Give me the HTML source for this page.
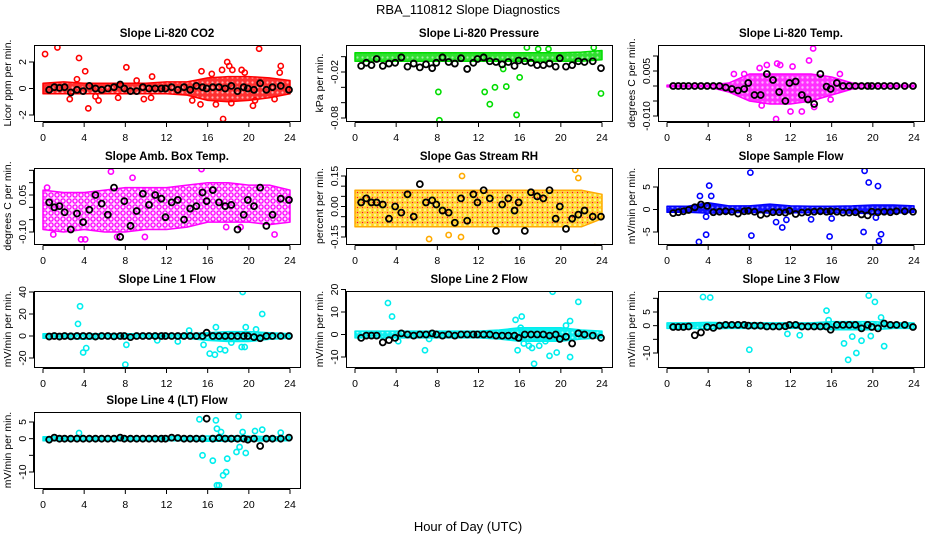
<!DOCTYPE html>
<html><head><meta charset="utf-8"><title>RBA_110812 Slope Diagnostics</title>
<style>
html,body{margin:0;padding:0;background:#fff;}
svg{display:block;font-family:"Liberation Sans",Arial,sans-serif;}
</style></head>
<body>
<svg id="chart" width="936" height="540" viewBox="0 0 936 540" xmlns="http://www.w3.org/2000/svg">
<defs>
<pattern id="pat-red" width="5" height="5" patternUnits="userSpaceOnUse"><rect width="5" height="5" fill="#ff3030"/><circle cx="2.5" cy="2.5" r="1.1" fill="#ffb0b0"/></pattern>
<pattern id="pat-green" width="5" height="5" patternUnits="userSpaceOnUse"><rect width="5" height="5" fill="#30e030"/><circle cx="2.5" cy="2.5" r="1.1" fill="#a0f0a0"/></pattern>
<pattern id="pat-magenta" width="5" height="5" patternUnits="userSpaceOnUse"><rect width="5" height="5" fill="#ff30ff"/><circle cx="2.5" cy="2.5" r="1.2" fill="#ffb0ff"/></pattern>
<pattern id="pat-magenta2" width="6" height="6" patternUnits="userSpaceOnUse"><rect width="6" height="6" fill="#ffe0ff"/><circle cx="3" cy="3" r="2.1" fill="none" stroke="#ff00ff" stroke-width="1.3"/></pattern>
<pattern id="pat-orange" width="5" height="5" patternUnits="userSpaceOnUse"><rect width="5" height="5" fill="#fff4a0"/><circle cx="2.5" cy="2.5" r="1.9" fill="none" stroke="#ffcc00" stroke-width="1"/><circle cx="2.5" cy="2.5" r="0.9" fill="#ff2000"/></pattern>
<pattern id="pat-blue" width="5" height="5" patternUnits="userSpaceOnUse"><rect width="5" height="5" fill="#1010ff"/><circle cx="2.5" cy="2.5" r="1" fill="#8080ff"/></pattern>
<pattern id="pat-cyan" width="5" height="5" patternUnits="userSpaceOnUse"><rect width="5" height="5" fill="#10f0f0"/><circle cx="2.5" cy="2.5" r="1" fill="#a0ffff"/></pattern>
</defs>
<text x="468" y="14" text-anchor="middle" font-size="13">RBA_110812  Slope Diagnostics</text>
<text x="468" y="531" text-anchor="middle" font-size="13">Hour of Day (UTC)</text>
<g id="panels"></g>
</svg>
<script>
// shared x positions (hour) of black summary points
const blackX = [0.6,1.1,1.6,2.1,2.7,3.3,3.9,4.5,5.1,5.7,6.3,6.9,7.5,7.9,8.5,9.1,9.7,10.3,10.9,11.5,11.9,12.5,13.1,13.7,14.3,14.9,15.5,15.9,16.5,17.1,17.7,18.3,18.9,19.5,19.9,20.5,21.1,21.7,22.3,23.1,23.9];
const bandHours = [0,2,4,6,8,10,12,14,16,18,20,22,24];
const xTicks = [0,4,8,12,16,20,24];

// Panel 1: CO2
const co2Hi = [0.4,0.5,0.4,0.4,0.4,0.4,0.5,0.5,0.8,0.9,0.9,0.8,0.6];
const co2Lo = [-0.4,-0.4,-0.4,-0.4,-0.4,-0.4,-0.4,-0.5,-0.9,-1.0,-0.9,-0.7,-0.4];
const co2OutX = [0.2,1.4,3.5,4.1,4.4,2.6,5.4,5.1,8.1,9.1,10.6,9.8,10.5,7.3,15.4,16.4,17.4,17.9,18.1,18.4,19.3,19.6,21.0,23.1,23.0,17.5,15.3,16.8,18.3,20.4,20.6,22.5,3.3,14.5];
const co2OutY = [2.6,3.1,2.3,1.3,-1.5,-0.8,-0.9,-0.6,1.6,0.6,0.9,-0.8,-0.7,-0.7,1.3,1.1,1.4,2.0,1.7,1.4,1.4,1.2,3.0,1.7,1.2,-2.3,-1.2,-1.2,-1.1,-1.3,-0.9,-0.8,0.7,-0.9];
const co2Black = [-0.1,0.1,0.05,0.1,-0.3,-0.1,-0.2,0.2,0,-0.1,0,0.1,0.3,0,-0.2,-0.2,0.1,0,0,0,0,0.1,-0.1,0.1,-0.1,0.2,0.1,0,0.1,0.1,0,0.2,-0.2,0.1,0,-0.1,0.4,-0.1,0.1,0.2,-0.1];
const co2Ticks = [-2,0,2];
const co2Labels = ["-2","0","2"];

// Panel 2: Pressure
const presHi = [0.005,0.005,0.005,0.005,0.005,0.005,0.005,0.005,0.005,0.005,0.005,0.006,0.008];
const presLo = [-0.006,-0.006,-0.006,-0.006,-0.006,-0.006,-0.006,-0.006,-0.006,-0.006,-0.006,-0.006,-0.004];
const presOutX = [8.1,8.2,12.6,13.1,13.6,14.7,15.7,16,23.9,16.7,17.8,18.8,23.2,14.4];
const presOutY = [-0.046,-0.083,-0.046,-0.062,-0.04,-0.039,-0.076,-0.027,-0.048,0.012,0.01,0.01,0.012,-0.016];
const presBlack = [-0.012,-0.008,-0.011,-0.003,-0.012,-0.009,-0.008,-0.001,-0.013,-0.009,-0.014,-0.01,-0.015,-0.008,-0.001,-0.007,-0.009,-0.002,-0.016,-0.008,-0.003,-0.001,-0.006,-0.007,-0.01,-0.007,-0.012,-0.005,-0.006,-0.008,-0.011,-0.011,-0.009,-0.013,-0.002,-0.013,-0.011,-0.006,-0.007,-0.006,-0.015];
const presTicks = [0,-0.02,-0.04,-0.06,-0.08];
const presLabels = ["","-0.02","","","-0.08"];

// Panel 3: Li-820 Temp
const tempHi = [0.0003,0.0003,0.0003,0.001,0.004,0.004,0.004,0.004,0.003,0.001,0.0003,0.0003,0.0003];
const tempLo = [-0.0003,-0.0003,-0.0003,-0.002,-0.005,-0.006,-0.006,-0.005,-0.003,-0.001,-0.0003,-0.0003,-0.0003];
const tempOutX = [14.2,13.8,10.7,9.7,9,11,12.2,10.6,9.2,13.1,14.3,12,15.9,16.8,7.5,6.5];
const tempOutY = [0.0125,0.0085,0.0075,0.007,0.006,0.007,0.0065,-0.011,-0.0065,-0.0085,-0.007,-0.0085,-0.0045,0.004,0.004,0.004];
const tempBlack = [0,0,0,0,0,0,0,0,0,-0.0005,-0.001,-0.0015,-0.001,0.001,-0.003,-0.003,0.004,0.002,-0.002,-0.005,0.001,0.0015,-0.003,-0.0045,-0.006,0.004,-0.0002,-0.001,0.001,0,0,0,0,0,0,0,0,0,0,0,0];
const tempTicks = [0.01,0.005,0,-0.005,-0.01];
const tempLabels = ["","0.005","","","-0.010"];

// Panel 4: Amb Box Temp
const ambHi = [0.07,0.06,0.06,0.07,0.08,0.08,0.08,0.09,0.10,0.10,0.09,0.09,0.07];
const ambLo = [-0.09,-0.1,-0.09,-0.1,-0.1,-0.09,-0.09,-0.08,-0.06,-0.06,-0.06,-0.07,-0.06];
const ambOutX = [6.6,15.4,8.7,0.4,3.7,4.1,7.2,9.9,1,22.5,19.2,17.8];
const ambOutY = [0.145,0.155,0.12,0.08,-0.13,-0.13,-0.12,-0.12,-0.11,-0.11,-0.08,-0.08];
const ambBlack = [0.02,0,0.005,-0.02,-0.09,-0.025,-0.06,-0.01,0.05,0.015,-0.03,0.08,-0.12,0.025,-0.075,-0.015,0.055,0.01,0.05,0.035,-0.04,0.02,0.03,-0.05,-0.005,0.005,0.06,0.025,0.07,0.02,0.005,0.01,-0.09,-0.03,0.03,0.005,0.08,-0.075,-0.03,0.035,0.03];
const ambTicks = [0.15,0.1,0.05,0,-0.05,-0.1];
const ambLabels = ["","","0.05","","","-0.10"];

// Panel 5: Gas Stream RH
const rhHi = [0.08,0.08,0.08,0.08,0.08,0.08,0.08,0.08,0.08,0.08,0.08,0.08,0.06];
const rhLo = [-0.1,-0.1,-0.1,-0.1,-0.1,-0.1,-0.1,-0.1,-0.1,-0.1,-0.1,-0.1,-0.06];
const rhOutX = [10.4,21.4,21.7,14.2,23.3,7.2,9.1,10.3];
const rhOutY = [0.15,0.18,0.14,-0.2,-0.2,-0.16,-0.14,-0.15];
const rhBlack = [0.02,0.04,0.02,0.02,0.01,-0.06,0,-0.03,0.06,-0.05,0.11,0.02,0.03,0.01,-0.02,-0.03,-0.08,0.04,-0.07,0.06,0.02,0.08,0.04,-0.12,0.01,0.04,-0.02,0.02,-0.12,0.07,0.05,0.04,0.08,-0.06,0,-0.11,-0.06,-0.04,-0.02,-0.05,-0.05];
const rhTicks = [0.15,0.1,0.05,0,-0.05,-0.1,-0.15];
const rhLabels = ["0.15","","","0.00","","","-0.15"];

// Panel 6: Sample Flow
const sampHi = [0.7,0.7,1.5,0.8,0.8,1.2,0.8,0.7,0.7,0.8,1.0,1.0,0.8];
const sampLo = [-0.6,-0.6,-0.8,-0.7,-0.6,-0.8,-0.7,-0.7,-0.7,-0.8,-0.9,-0.8,-0.6];
const sampOutX = [8.1,19.2,19.6,20.5,4.1,4.3,3.2,3.1,3.8,8.2,10.6,11.2,11.6,14,15.8,16,19.1,20.6,20.8,3.8,20.3];
const sampOutY = [8.2,8.6,6,5.2,5.3,3,3,-7.2,-5.6,-5.8,-2.8,-4,-2.3,-2.2,-6,-2,-5,-7,-5.5,-1.6,-1.8];
const sampBlack = [-0.8,-0.6,-0.4,-0.1,0.5,1.1,0.8,-0.6,-0.5,-0.4,-0.5,-0.9,-0.4,-0.3,-0.5,-1.2,-0.9,-0.6,-0.6,-0.7,-0.3,-1.0,-0.7,-0.6,-0.5,-0.4,-0.5,-0.4,-0.5,-0.7,-0.7,-0.6,-1.1,-1.3,-0.5,-0.6,-0.5,-0.6,-0.4,-0.4,-0.5];
const sampTicks = [5,0,-5];
const sampLabels = ["5","0","-5"];

// Panel 7: Line 1 Flow
const l1Hi = [2,2,2,2,2,2,2,2,3,4,4,3,2];
const l1Lo = [-2,-2,-3,-2,-2,-2,-2,-2,-4,-5,-5,-3,-2];
const l1OutX = [3.6,3.4,3.9,4.2,8,8.1,14.2,15.6,16.2,16.7,16.8,17.2,17.7,19.4,21.3,19.7,20.7,19.3,19.6,18.3,13.1,11.1];
const l1OutY = [27,11,-15,-11,-26,-8,5,-8,-16,-17,8,-12,-13,40,20,8,6,-10,-10,-6,-5,-4];
const l1Black = [-0.5,0,-0.5,0,-0.3,0,0,0,-0.5,0,0,-0.3,0,0,-1,0,0,0,0,0,0,0,0,0,0,0,0,3,0,0,0,0,0,0,0,-1,-2,0,0,0,0];
const l1Ticks = [40,20,0,-20];
const l1Labels = ["40","20","0","-20"];

// Panel 8: Line 2 Flow
const l2Hi = [1.5,1.5,1.5,1.5,1.5,1.5,1.5,2,3,3,3,2,1.5];
const l2Lo = [-1.5,-1.5,-1.5,-1.5,-1.5,-1.5,-1.5,-2,-3,-3,-3,-2,-1.5];
const l2OutX = [3.2,3.6,6.8,15.6,16.2,16.1,15.8,16.4,16.9,17.2,17.4,17.9,18.5,19.2,18.9,19.6,20.5,20.9,20.9,21.7,4.2,7.2];
const l2OutY = [14,8,-7,6.5,8,3,-7,-4,-5,-6,-13,-5,-3,19,-9.5,-8,4,6,-10,14.5,-3,-2];
const l2Black = [-1.5,-0.5,-0.5,-0.5,-3.5,-2.5,-1.5,0.5,0,-0.5,0,0,0.5,0,-0.5,0,-0.5,0,0,0,0,0,0,-0.5,-0.5,-0.5,-0.5,-1.5,0,0,0,0,-0.5,0,-2,-1,-4,0.5,0,-0.5,-1.5];
const l2Ticks = [20,10,0,-10];
const l2Labels = ["20","10","0","-10"];

// Panel 9: Line 3 Flow
const l3Hi = [1,1,1.2,1,1,1,1,1,1.5,1.5,1.5,1,1];
const l3Lo = [-1,-1,-1.2,-1,-1,-1,-1,-1,-1.5,-1.5,-1.5,-1,-1];
const l3OutX = [3.5,4.2,8,11.7,12.9,15.5,17.2,17.6,18,18.4,18.9,19.8,19.6,20.2,15.7,20.8,21.1,16];
const l3OutY = [10.5,10.3,-8.8,-3,-3.5,5.5,-6.5,-12.5,-4,-10,-5.5,-3.8,11,8.7,2,3,-7.5,-0.5];
const l3Black = [-0.5,-0.5,-0.5,-0.3,-3.5,-2.5,-0.5,-0.8,0,0.3,0.3,0.3,0.3,0,0,0,-0.3,-0.3,-0.3,-0.2,0.3,0.3,-0.3,-0.3,-0.3,-0.3,-0.3,-1.5,0.3,0.3,0.3,0.3,-1,0.3,-0.5,-1,0.8,0.3,0.3,0.3,-0.5];
const l3Ticks = [10,5,0,-5,-10];
const l3Labels = ["","5","0","","-10"];

// Panel 10: Line 4 (LT) Flow
const l4Hi = [0.6,0.6,0.6,0.6,0.6,0.6,0.6,0.6,0.8,0.8,0.8,0.6,0.6];
const l4Lo = [-0.6,-0.6,-0.6,-0.6,-0.6,-0.6,-0.6,-0.6,-0.8,-0.8,-0.8,-0.6,-0.6];
const l4OutX = [3.5,15.2,16.8,16.9,19,15.5,16.5,16.9,17.1,17.5,17.8,17.9,18.8,19.1,19.7,20.6,21.3,23.1,17.3,19.4];
const l4OutY = [1.7,5.8,5.5,3,6.7,-5,-6.6,-14,-14,-11,-10,-6,-4,-2.5,-4.3,2.3,2.7,1.8,2,2];
const l4Black = [-0.3,0.3,0,0,0,0,0,0,0,0,0,0,0.3,0,0,0,0,0,0,0,0,0.3,0.2,0,0,0,0,6,0,0.2,0,0,0,0,-0.3,0,-2.2,0,0,0,0.3];
const l4Ticks = [5,0,-5,-10];
const l4Labels = ["5","0","","-10"];

const NS = "http://www.w3.org/2000/svg";
const root = document.getElementById("panels");
function mk(tag, attrs, parent){const e=document.createElementNS(NS,tag);for(const k in attrs)e.setAttribute(k,attrs[k]);parent.appendChild(e);return e;}

const colL = [34,346,658], rowT = [45,168,291,412], W = 266, H = 76;
const panels = [
 {key:"co2",c:0,r:0,title:"Slope Li-820 CO2",ylab:"Licor ppm per min.",col:"#ff0000",pat:"pat-red",ref:[2,17,-2,70],hi:co2Hi,lo:co2Lo,ox:co2OutX,oy:co2OutY,bk:co2Black,tk:co2Ticks,tl:co2Labels},
 {key:"pressure",c:1,r:0,title:"Slope Li-820 Pressure",ylab:"kPa per min.",col:"#00dd00",pat:"pat-green",ref:[-0.02,27,-0.08,73],hi:presHi,lo:presLo,ox:presOutX,oy:presOutY,bk:presBlack,tk:presTicks,tl:presLabels},
 {key:"li820-temp",c:2,r:0,title:"Slope Li-820 Temp.",ylab:"degrees C per min.",col:"#ff00ff",pat:"pat-magenta",ref:[0.005,26,-0.01,71],hi:tempHi,lo:tempLo,ox:tempOutX,oy:tempOutY,bk:tempBlack,tk:tempTicks,tl:tempLabels},
 {key:"amb-box-temp",c:0,r:1,title:"Slope Amb. Box Temp.",ylab:"degrees C per min.",col:"#ff00ff",pat:"pat-magenta2",ref:[0.05,27,-0.1,64],hi:ambHi,lo:ambLo,ox:ambOutX,oy:ambOutY,bk:ambBlack,tk:ambTicks,tl:ambLabels},
 {key:"gas-stream-rh",c:1,r:1,title:"Slope Gas Stream RH",ylab:"percent per min.",col:"#ffaa00",pat:"pat-orange",ref:[0.15,8,-0.15,69],hi:rhHi,lo:rhLo,ox:rhOutX,oy:rhOutY,bk:rhBlack,tk:rhTicks,tl:rhLabels},
 {key:"sample-flow",c:2,r:1,title:"Slope Sample Flow",ylab:"mV/min per min.",col:"#0000ff",pat:"pat-blue",ref:[5,19,-5,64],hi:sampHi,lo:sampLo,ox:sampOutX,oy:sampOutY,bk:sampBlack,tk:sampTicks,tl:sampLabels},
 {key:"line1-flow",c:0,r:2,title:"Slope Line 1 Flow",ylab:"mV/min per min.",col:"#00eeee",pat:"pat-cyan",ref:[20,23,-20,67],hi:l1Hi,lo:l1Lo,ox:l1OutX,oy:l1OutY,bk:l1Black,tk:l1Ticks,tl:l1Labels},
 {key:"line2-flow",c:1,r:2,title:"Slope Line 2 Flow",ylab:"mV/min per min.",col:"#00eeee",pat:"pat-cyan",ref:[10,21,-10,66],hi:l2Hi,lo:l2Lo,ox:l2OutX,oy:l2OutY,bk:l2Black,tk:l2Ticks,tl:l2Labels},
 {key:"line3-flow",c:2,r:2,title:"Slope Line 3 Flow",ylab:"mV/min per min.",col:"#00eeee",pat:"pat-cyan",ref:[5,21,-10,62],hi:l3Hi,lo:l3Lo,ox:l3OutX,oy:l3OutY,bk:l3Black,tk:l3Ticks,tl:l3Labels},
 {key:"line4-flow",c:0,r:3,title:"Slope Line 4 (LT) Flow",ylab:"mV/min per min.",col:"#00eeee",pat:"pat-cyan",ref:[5,10,-10,60],hi:l4Hi,lo:l4Lo,ox:l4OutX,oy:l4OutY,bk:l4Black,tk:l4Ticks,tl:l4Labels}
];

panels.forEach(p=>{
 const L=colL[p.c], T=rowT[p.r];
 const xs = h => L+9+h*(247/24);
 const ys = v => T+p.ref[1]+(v-p.ref[0])*(p.ref[3]-p.ref[1])/(p.ref[2]-p.ref[0]);
 const g = mk("g",{},root);
 
 
 const cp = mk("clipPath",{id:"clip-"+p.key},g);
 mk("rect",{x:L,y:T,width:W,height:H},cp);
 const t = mk("text",{x:L+W/2,y:T-8,"text-anchor":"middle","font-size":"11.5","font-weight":"bold"},g);
 t.textContent=p.title;
 
 
 const yl = mk("text",{transform:`translate(${L-23},${T+H/2}) rotate(-90)`,"text-anchor":"middle","font-size":"10.5"},g);
 yl.textContent=p.ylab;
 
 
 const data = mk("g",{"clip-path":`url(#clip-${p.key})`},g);
 let d="M"+bandHours.map((h,i)=>xs(h).toFixed(1)+","+ys(p.hi[i]).toFixed(1)).join("L");
 for(let i=bandHours.length-1;i>=0;i--) d+="L"+xs(bandHours[i]).toFixed(1)+","+ys(p.lo[i]).toFixed(1);
 const band = mk("path",{d:d+"Z",fill:`url(#${p.pat})`,stroke:p.col,"stroke-width":"1.5","stroke-linejoin":"round"},data);
 
 
 p.ox.forEach((h,i)=>{
  const c=mk("circle",{cx:xs(h),cy:ys(p.oy[i]),r:2.6,fill:"none",stroke:p.col,"stroke-width":"1.6"},data);
  
  
 });
 blackX.forEach((h,i)=>{
  const c=mk("circle",{cx:xs(h),cy:ys(p.bk[i]),r:3,fill:"none",stroke:"#000","stroke-width":"1.8"},data);
  
  
 });
 const box = mk("rect",{x:L+0.5,y:T+0.5,width:W,height:H,fill:"none",stroke:"#000","stroke-width":"1"},g);
 
 
 const xa = mk("g",{},g);
 
 
 mk("line",{x1:xs(0),x2:xs(24),y1:T+H+1.5,y2:T+H+1.5,stroke:"#000"},xa);
 xTicks.forEach(v=>{
  mk("line",{x1:xs(v),x2:xs(v),y1:T+H+1.5,y2:T+H+6,stroke:"#000"},xa);
  const lt=mk("text",{x:xs(v),y:T+H+20,"text-anchor":"middle","font-size":"10.5"},xa);
  lt.textContent=v;
  
  
 });
 const ya = mk("g",{},g);
 
 
 const yv = p.tk.map(ys);
 mk("line",{x1:L-0.5,x2:L-0.5,y1:Math.min(...yv),y2:Math.max(...yv),stroke:"#000"},ya);
 p.tk.forEach((v,i)=>{
  mk("line",{x1:L-5,x2:L,y1:yv[i],y2:yv[i],stroke:"#000"},ya);
  if(p.tl[i]){
   const lt=mk("text",{transform:`translate(${L-8},${yv[i]}) rotate(-90)`,"text-anchor":"middle","font-size":"10.5"},ya);
   lt.textContent=p.tl[i];
   
   
  }
 });
});
</script>
</body></html>
